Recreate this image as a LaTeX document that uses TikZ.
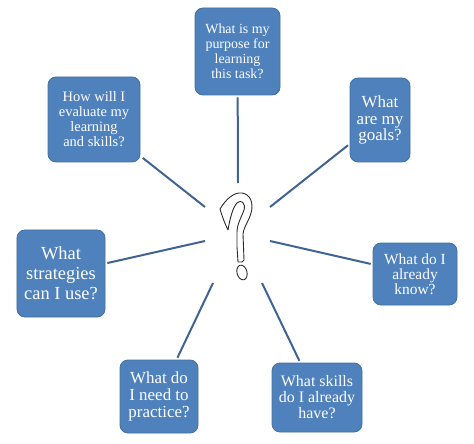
\documentclass[tikz,border=0pt]{standalone}
\usepackage{fontspec}
\setmainfont{Liberation Serif}
\definecolor{boxfill}{HTML}{4F81BD}
\definecolor{boxline}{HTML}{41719C}
\definecolor{conn}{HTML}{3F6393}
\definecolor{qcol}{HTML}{2A2A2A}
\begin{document}
\begin{tikzpicture}[x=1bp,y=-1bp,
  qbox/.style={rectangle, rounded corners=8bp, fill=boxfill, draw=boxline, line width=0.8bp,
     text=white, align=center, inner sep=0pt},
  fs/.style={font=\fontsize{#1}{#1*1.08}\selectfont},
  conn/.style={draw=conn, line width=2bp, shorten <=2bp},
  qm/.style={draw=qcol, line width=0.9bp, line join=round}]
\useasboundingbox (0,0) rectangle (474,444);

\node[qbox, minimum width=85bp, minimum height=87bp, font=\fontsize{14}{15}\selectfont] (b1) at (237.5,51.5) {What is my\\purpose for\\learning\\this task?};
\node[qbox, minimum width=92bp, minimum height=85bp, font=\fontsize{14.5}{15}\selectfont] (b2) at (94,119.5) {How will I\\evaluate my\\learning\\and skills?};
\node[qbox, minimum width=60bp, minimum height=84bp, font=\fontsize{17}{17}\selectfont] (b3) at (380,120) {What\\are my\\goals?};
\node[qbox, minimum width=88bp, minimum height=87bp, font=\fontsize{18.5}{20}\selectfont] (b4) at (61,273.5) {What\\strategies\\can I use?};
\node[qbox, minimum width=84bp, minimum height=62bp, font=\fontsize{15.5}{15}\selectfont] (b5) at (415,274) {What do I\\already\\know?};
\node[qbox, minimum width=78bp, minimum height=73bp, font=\fontsize{17}{17}\selectfont] (b6) at (159,396.5) {What do\\I need to\\practice?};
\node[qbox, minimum width=90bp, minimum height=69bp, font=\fontsize{16}{16}\selectfont] (b7) at (317,397.5) {What skills\\do I already\\have?};

\coordinate (e1) at (238,183);
\coordinate (e2) at (205,207);
\coordinate (e3) at (270,207);
\coordinate (e4) at (205,241);
\coordinate (e5) at (270,241);
\coordinate (e6) at (213,283);
\coordinate (e7) at (262,283);

\draw[conn] (b1) -- (e1);
\draw[conn, shorten <=3bp] (b2) -- (e2);
\draw[conn] (b3) -- (e3);
\draw[conn] (b4) -- (e4);
\draw[conn] (b5) -- (e5);
\draw[conn] (b6) -- (e6);
\draw[conn] (b7) -- (e7);

% hand-drawn question mark
\draw[qm] (220,209) .. controls (226,199) and (234,192) .. (242,193)
  .. controls (250,194) and (254,203) .. (251,213)
  .. controls (249,221) and (244,226) .. (243,234)
  -- (244,260) -- (242,262) -- (238,262) -- (237,247) -- (237,232)
  .. controls (237,224) and (242,216) .. (244,210)
  .. controls (246,203) and (241,199) .. (237,203)
  .. controls (233,207) and (230,218) .. (228,230)
  .. controls (225,224) and (222,216) .. (220,209) -- cycle;
\draw[qm, rotate around={15:(242,272.5)}] (242,272.5) ellipse [x radius=5, y radius=7.5];
\end{tikzpicture}
\end{document}
